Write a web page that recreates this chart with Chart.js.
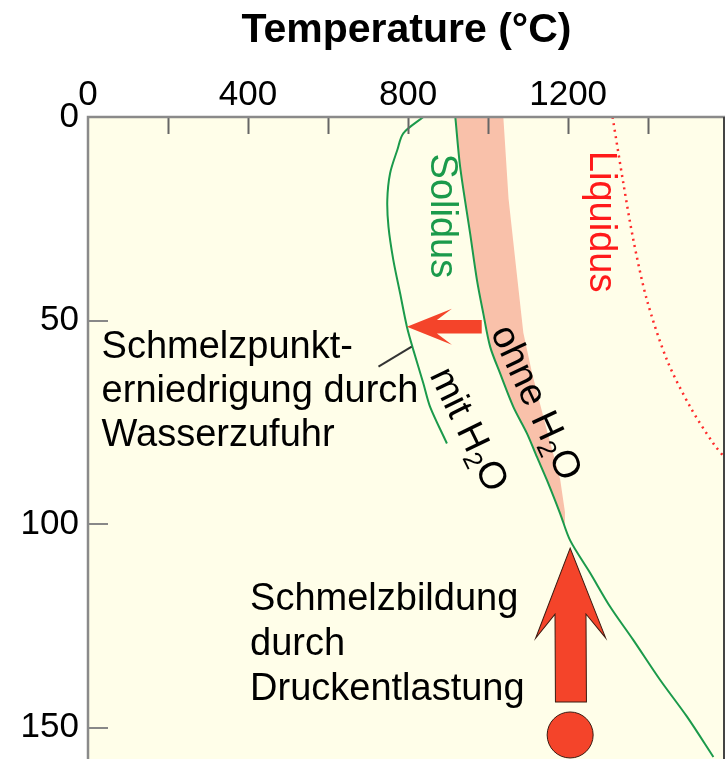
<!DOCTYPE html>
<html><head><meta charset="utf-8">
<script src="https://cdn.jsdelivr.net/npm/chart.js@4/dist/chart.umd.min.js"></script>
<style>html,body{margin:0;padding:0;background:#fff;}canvas{display:block;}</style>
</head><body>
<canvas id="c" width="728" height="759"></canvas>
<script>
// ---------- data ----------
const tempTicks  = [0, 200, 400, 600, 800, 1000, 1200, 1400];
const tempLabels = [0, 400, 800, 1200];
const depthTicks = [0, 50, 100, 150];

// Solidus ohne H2O (trockener Solidus)
const drySolidusT = [918, 930, 955, 972, 988, 1005, 1030, 1063, 1097, 1122, 1147, 1180, 1205, 1255, 1305, 1363, 1430, 1497, 1563];
const drySolidusD = [0, 12.2, 28.6, 40, 48.3, 56.4, 63, 71.2, 77.7, 83.5, 89.2, 97.4, 104, 112, 120.3, 128.5, 138.3, 147.3, 157.2];
// Solidus mit H2O
const wetSolidusT = [838, 788, 773, 755, 748, 751, 763, 780, 797, 813, 838, 855, 897];
const wetSolidusD = [0, 4, 8.1, 13.8, 20.4, 27, 35.1, 43.3, 51.5, 57.2, 65.4, 71.2, 80.2];
// rechter Rand des Schmelzbereichs ohne H2O
const dryRangeT = [1038, 1051, 1070, 1088, 1110, 1147, 1180, 1192, 1192];
const dryRangeD = [0, 20, 37, 53, 63, 77, 89, 97, 100.5];
// Liquidus
const liquidusT = [1311, 1338, 1363, 1397, 1447, 1505, 1563, 1593];
const liquidusD = [0, 16.3, 30.2, 45, 59.7, 71.2, 80.2, 83.9];
// Pfeile (Schwanz -> Spitze) und Ausgangspunkt
const arrowWaterT = [984, 797];
const arrowWaterD = [51.5, 51.5];
const arrowDecompT = [1207, 1205];
const arrowDecompD = [143.7, 105.9];
const sourceT = [1205];
const sourceD = [151.8];
const leaderT = [726, 809];
const leaderD = [61.3, 56.4];

// ---------- styles ----------
const FONT = '"Liberation Sans", Arial, Helvetica, sans-serif';
const GREEN = '#1b9a4b';
const RED = '#f4442a';
const PLOT_BG = '#fffee9';

const pts = (T, D) => T.map((t, i) => ({x: t, y: D[i]}));
const bandPts = pts(dryRangeT, dryRangeD).concat(
  pts(drySolidusT, drySolidusD).filter(p => p.y < 100).reverse());

const annotations = {
  rotated: [
    {parts: [{t: 'Solidus'}], T: 884, d: 24.3, rot: 90, color: GREEN},
    {parts: [{t: 'Liquidus'}], T: 1282, d: 25.7, rot: 90, color: '#ff1a1a'},
    {parts: [{t: 'ohne H'}, {t: '2', sub: true}, {t: 'O'}], T: 1117, d: 70.3, rot: 65, color: '#000'},
    {parts: [{t: 'mit H'}, {t: '2', sub: true}, {t: 'O'}], T: 949, d: 76.9, rot: 64, color: '#000'}
  ],
  blocks: [
    {lines: ['Schmelzpunkt-', 'erniedrigung durch', 'Wasserzufuhr'], T: 34, d: 59.3, lh: 44},
    {lines: ['Schmelzbildung', 'durch', 'Druckentlastung'], T: 405, d: 121.1, lh: 45}
  ]
};

function drawArrow(ctx, x0, y0, x1, y1, s) {
  const ang = Math.atan2(y1 - y0, x1 - x0);
  const len = Math.hypot(x1 - x0, y1 - y0);
  const hw = s.shaft / 2;
  ctx.save();
  ctx.translate(x1, y1);
  ctx.rotate(ang);
  ctx.beginPath();
  ctx.moveTo(0, 0);
  ctx.lineTo(-s.barbBack, -s.barbHalf);
  ctx.lineTo(-s.notch, -hw);
  ctx.lineTo(-len, -hw);
  ctx.lineTo(-len, hw);
  ctx.lineTo(-s.notch, hw);
  ctx.lineTo(-s.barbBack, s.barbHalf);
  ctx.closePath();
  ctx.fillStyle = RED;
  ctx.fill();
  if (s.outline) { ctx.strokeStyle = s.outline; ctx.lineWidth = 1; ctx.stroke(); }
  ctx.restore();
}

const decor = {
  id: 'decor',
  beforeDraw(chart) {
    const {ctx, chartArea: a} = chart;
    ctx.save();
    ctx.fillStyle = PLOT_BG;
    ctx.fillRect(a.left, a.top, a.right - a.left, a.bottom - a.top);
    ctx.restore();
  },
  afterDatasetsDraw(chart) {
    const {ctx} = chart;
    const xs = chart.scales.x, ys = chart.scales.y;
    const X = v => xs.getPixelForValue(v), Y = v => ys.getPixelForValue(v);
    // leader line
    ctx.save();
    ctx.strokeStyle = '#333'; ctx.lineWidth = 2;
    ctx.beginPath();
    ctx.moveTo(X(leaderT[0]), Y(leaderD[0]));
    ctx.lineTo(X(leaderT[1]), Y(leaderD[1]));
    ctx.stroke();
    ctx.restore();
    // arrows
    drawArrow(ctx, X(arrowWaterT[0]), Y(arrowWaterD[0]), X(arrowWaterT[1]), Y(arrowWaterD[1]),
      {shaft: 13.5, notch: 30, barbBack: 45, barbHalf: 18});
    drawArrow(ctx, X(arrowDecompT[0]), Y(arrowDecompD[0]), X(arrowDecompT[1]), Y(arrowDecompD[1]),
      {shaft: 31, notch: 66, barbBack: 90, barbHalf: 35, outline: '#3a1a10'});
    // texts
    const size = 38;
    for (const r of annotations.rotated) {
      ctx.save();
      ctx.translate(X(r.T), Y(r.d));
      ctx.rotate(r.rot * Math.PI / 180);
      ctx.fillStyle = r.color;
      ctx.textBaseline = 'middle';
      ctx.textAlign = 'left';
      let total = 0;
      const ws = r.parts.map(p => {
        ctx.font = (p.sub ? 26 : size) + 'px ' + FONT;
        const w = ctx.measureText(p.t).width; total += w; return w;
      });
      let cx = -total / 2;
      r.parts.forEach((p, i) => {
        ctx.font = (p.sub ? 26 : size) + 'px ' + FONT;
        ctx.fillText(p.t, cx, p.sub ? 10 : 0);
        cx += ws[i];
      });
      ctx.restore();
    }
    ctx.save();
    ctx.fillStyle = '#000';
    ctx.font = size + 'px ' + FONT;
    ctx.textBaseline = 'alphabetic';
    ctx.textAlign = 'left';
    for (const b of annotations.blocks) {
      b.lines.forEach((l, i) => ctx.fillText(l, X(b.T), Y(b.d) + i * b.lh));
    }
    ctx.restore();
  },
  afterDraw(chart) {
    const {ctx, chartArea: a} = chart;
    const xs = chart.scales.x, ys = chart.scales.y;
    ctx.save();
    // tick marks (inward)
    ctx.strokeStyle = '#666'; ctx.lineWidth = 2;
    ctx.beginPath();
    tempTicks.filter(v => v > 0).forEach(v => {
      const x = Math.round(xs.getPixelForValue(v)) + 0.5;
      ctx.moveTo(x, a.top); ctx.lineTo(x, a.top + 17);
    });
    ctx.stroke();
    ctx.strokeStyle = '#888';
    ctx.beginPath();
    depthTicks.filter(v => v > 0).forEach(v => {
      const y = Math.round(ys.getPixelForValue(v));
      ctx.moveTo(a.left, y); ctx.lineTo(a.left + 20, y);
    });
    ctx.stroke();
    // frame
    ctx.strokeStyle = '#8a8a8a'; ctx.lineWidth = 2.5;
    ctx.beginPath();
    ctx.moveTo(a.left, a.bottom); ctx.lineTo(a.left, a.top); ctx.lineTo(a.right, a.top);
    ctx.stroke();
    ctx.strokeStyle = '#444'; ctx.lineWidth = 2;
    ctx.beginPath();
    ctx.moveTo(a.right - 1, a.top); ctx.lineTo(a.right - 1, a.bottom);
    ctx.stroke();
    ctx.restore();
  }
};

new Chart(document.getElementById('c'), {
  type: 'scatter',
  data: {
    datasets: [
      {label: 'Schmelzbereich ohne H2O', data: bandPts, showLine: true, fill: 'shape',
       backgroundColor: '#f9c1aa', borderWidth: 0, pointRadius: 0, tension: 0, order: 5},
      {label: 'Solidus ohne H2O', data: pts(drySolidusT, drySolidusD), showLine: true, fill: false,
       borderColor: GREEN, borderWidth: 2, pointRadius: 0, tension: 0.3, order: 2},
      {label: 'Solidus mit H2O', data: pts(wetSolidusT, wetSolidusD), showLine: true, fill: false,
       borderColor: GREEN, borderWidth: 2, pointRadius: 0, tension: 0.3, order: 2},
      {label: 'Liquidus', data: pts(liquidusT, liquidusD), showLine: true, fill: false,
       borderColor: '#ff2a2a', borderWidth: 2.5, borderDash: [2, 4.5], pointRadius: 0, tension: 0.3, order: 2},
      {label: 'Ausgangspunkt', data: pts(sourceT, sourceD), showLine: false,
       pointRadius: 23, pointBackgroundColor: RED, pointBorderColor: '#3a1a10', pointBorderWidth: 1, order: 1}
    ]
  },
  options: {
    responsive: false,
    animation: false,
    events: [],
    layout: {autoPadding: false, padding: {left: 0, right: 3, top: 0, bottom: 0}},
    plugins: {legend: {display: false}, tooltip: {enabled: false}},
    scales: {
      x: {
        type: 'linear', position: 'top', min: 0, max: 1592,
        afterBuildTicks: s => { s.ticks = tempTicks.map(v => ({value: v})); },
        afterFit: s => { s.height = 117; s.paddingLeft = 0; s.paddingRight = 0; },
        ticks: {autoSkip: false, maxRotation: 0, padding: 1, color: '#000',
                font: {family: FONT, size: 35, lineHeight: 1.2},
                callback: v => tempLabels.includes(v) ? String(v) : ''},
        grid: {display: false, drawTicks: false},
        border: {display: false},
        title: {display: true, text: 'Temperature (°C)', color: '#000',
                font: {family: FONT, size: 41, weight: 'bold', lineHeight: 1.2},
                padding: {top: 6, bottom: 0}}
      },
      y: {
        type: 'linear', position: 'left', reverse: true, min: 0, max: 157.7,
        afterBuildTicks: s => { s.ticks = depthTicks.map(v => ({value: v})); },
        afterFit: s => { s.width = 88; s.paddingTop = 0; s.paddingBottom = 0; },
        ticks: {autoSkip: false, padding: 9, color: '#000',
                font: {family: FONT, size: 35, lineHeight: 1.2},
                callback: v => String(v)},
        grid: {display: false, drawTicks: false},
        border: {display: false}
      }
    }
  },
  plugins: [decor]
});
</script>
</body></html>
